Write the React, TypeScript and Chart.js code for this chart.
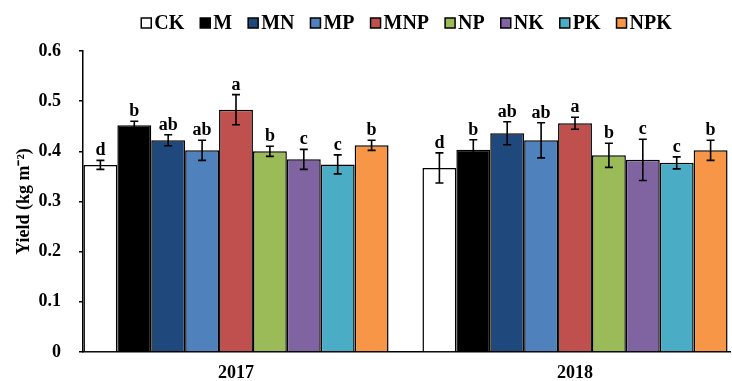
import React, { useEffect, useRef } from 'react';
import { Chart, registerables } from 'chart.js';

Chart.register(...registerables);

const years = ['2017', '2018'];
const treatments = ['CK', 'M', 'MN', 'MP', 'MNP', 'NP', 'NK', 'PK', 'NPK'];
const yield2017 = [0.373, 0.452, 0.422, 0.402, 0.483, 0.400, 0.384, 0.374, 0.412];
const error2017 = [0.009, 0.008, 0.011, 0.020, 0.030, 0.010, 0.020, 0.019, 0.010];
const letters2017 = ['d', 'b', 'ab', 'ab', 'a', 'b', 'c', 'c', 'b'];
const yield2018 = [0.367, 0.403, 0.436, 0.422, 0.456, 0.392, 0.383, 0.377, 0.402];
const error2018 = [0.030, 0.020, 0.023, 0.035, 0.012, 0.024, 0.041, 0.012, 0.020];
const letters2018 = ['d', 'b', 'ab', 'ab', 'a', 'b', 'c', 'c', 'b'];
const yTicks = [0, 0.1, 0.2, 0.3, 0.4, 0.5, 0.6];

const colors = ['#FFFFFF', '#000000', '#1F497D', '#4F81BD', '#C0504D', '#9BBB59', '#8064A2', '#4BACC6', '#F79646'];

const FONT = "'Liberation Serif', 'Times New Roman', serif";

const errorPlugin = {
  id: 'errorLetters',
  afterDatasetsDraw(chart: any) {
    const ctx = chart.ctx;
    const yScale = chart.scales.y;
    const errs = [error2017, error2018];
    const vals = [yield2017, yield2018];
    const lets = [letters2017, letters2018];
    ctx.save();
    chart.data.datasets.forEach((ds: any, i: number) => {
      const meta = chart.getDatasetMeta(i);
      meta.data.forEach((el: any, j: number) => {
        const v = vals[j][i];
        const e = errs[j][i];
        const x = el.x;
        const yt = yScale.getPixelForValue(v + e);
        const yb = yScale.getPixelForValue(v - e);
        ctx.strokeStyle = '#000';
        ctx.lineWidth = 1.6;
        ctx.beginPath();
        ctx.moveTo(x, yt);
        ctx.lineTo(x, yb);
        ctx.moveTo(x - 4, yt);
        ctx.lineTo(x + 4, yt);
        ctx.moveTo(x - 4, yb);
        ctx.lineTo(x + 4, yb);
        ctx.stroke();
        ctx.fillStyle = '#000';
        ctx.font = `bold 18px ${FONT}`;
        ctx.textAlign = 'center';
        ctx.textBaseline = 'alphabetic';
        ctx.fillText(lets[j][i], x, yt - 5);
      });
    });
    ctx.restore();
  },
};

const legendPlugin = {
  id: 'customLegend',
  afterDraw(chart: any) {
    const ctx = chart.ctx;
    const ca = chart.chartArea;
    const box = 10;
    const gapBoxText = 3;
    const gapItem = 16;
    ctx.save();
    ctx.font = `bold 20px ${FONT}`;
    const widths = treatments.map((t) => ctx.measureText(t).width);
    const total = widths.reduce((a, w) => a + box + gapBoxText + w, 0) + gapItem * (treatments.length - 1);
    let x = (ca.left + ca.right) / 2 - total / 2;
    const cy = 23;
    ctx.textBaseline = 'middle';
    ctx.textAlign = 'left';
    treatments.forEach((t, i) => {
      ctx.fillStyle = colors[i];
      ctx.fillRect(x, cy - box / 2, box, box);
      ctx.strokeStyle = '#000';
      ctx.lineWidth = 1.5;
      ctx.strokeRect(x, cy - box / 2, box, box);
      ctx.fillStyle = '#000';
      ctx.fillText(t, x + box + gapBoxText, cy + 1);
      x += box + gapBoxText + widths[i] + gapItem;
    });
    ctx.restore();
  },
};

export default function App() {
  const ref = useRef<HTMLCanvasElement>(null);
  useEffect(() => {
    if (!ref.current) return;
    const chart = new Chart(ref.current, {
      type: 'bar',
      data: {
        datasets: treatments.map((t, i) => ({
          label: t,
          data: [
            { x: 0, y: yield2017[i] },
            { x: 1, y: yield2018[i] },
          ],
          backgroundColor: colors[i],
          borderColor: '#000',
          borderWidth: 1.5,
          categoryPercentage: 0.9,
          barPercentage: 1.0,
        })),
      },
      options: {
        animation: false,
        responsive: true,
        maintainAspectRatio: false,
        layout: { padding: { left: 0, right: 2, top: 51, bottom: 0 } },
        plugins: {
          legend: { display: false },
          tooltip: { enabled: false },
        },
        scales: {
          x: {
            type: 'linear',
            bounds: 'data',
            offset: false,
            min: -0.4513,
            max: 1.4572,
            afterBuildTicks: (s: any) => { s.ticks = years.map((_, i) => ({ value: i })); },
            grid: { display: false, drawTicks: false, offset: false },
            border: { display: true, color: '#000', width: 1.5 },
            ticks: {
              color: '#000',
              padding: 11,
              maxRotation: 0,
              autoSkip: false,
              font: { family: FONT, size: 18, weight: 'bold' },
              callback: (v: any) => years[v] ?? '',
            },
            afterFit: (s: any) => { s.height = 29; },
          },
          y: {
            min: 0,
            max: 0.6,
            afterBuildTicks: (s: any) => { s.ticks = yTicks.map((v) => ({ value: v })); },
            grid: { drawOnChartArea: false, drawTicks: true, tickLength: 4, color: '#000', lineWidth: 1.5 },
            border: { display: true, color: '#000', width: 1.5 },
            ticks: {
              color: '#000',
              padding: 18,
              font: { family: FONT, size: 18, weight: 'bold' },
              callback: (v: any) => (v === 0 ? '0' : Number(v).toFixed(1)),
            },
            title: {
              display: true,
              text: 'Yield (kg m⁻²)',
              color: '#000',
              font: { family: FONT, size: 18, weight: 'bold' },
              padding: { top: 14, bottom: 0 },
            },
            afterFit: (s: any) => { s.width = 83; },
          },
        },
      },
      plugins: [errorPlugin, legendPlugin],
    });
    return () => chart.destroy();
  }, []);
  return (
    <div style={{ position: 'fixed', left: 0, top: 0, width: 732, height: 381, background: '#fff' }}>
      <canvas ref={ref} />
    </div>
  );
}
